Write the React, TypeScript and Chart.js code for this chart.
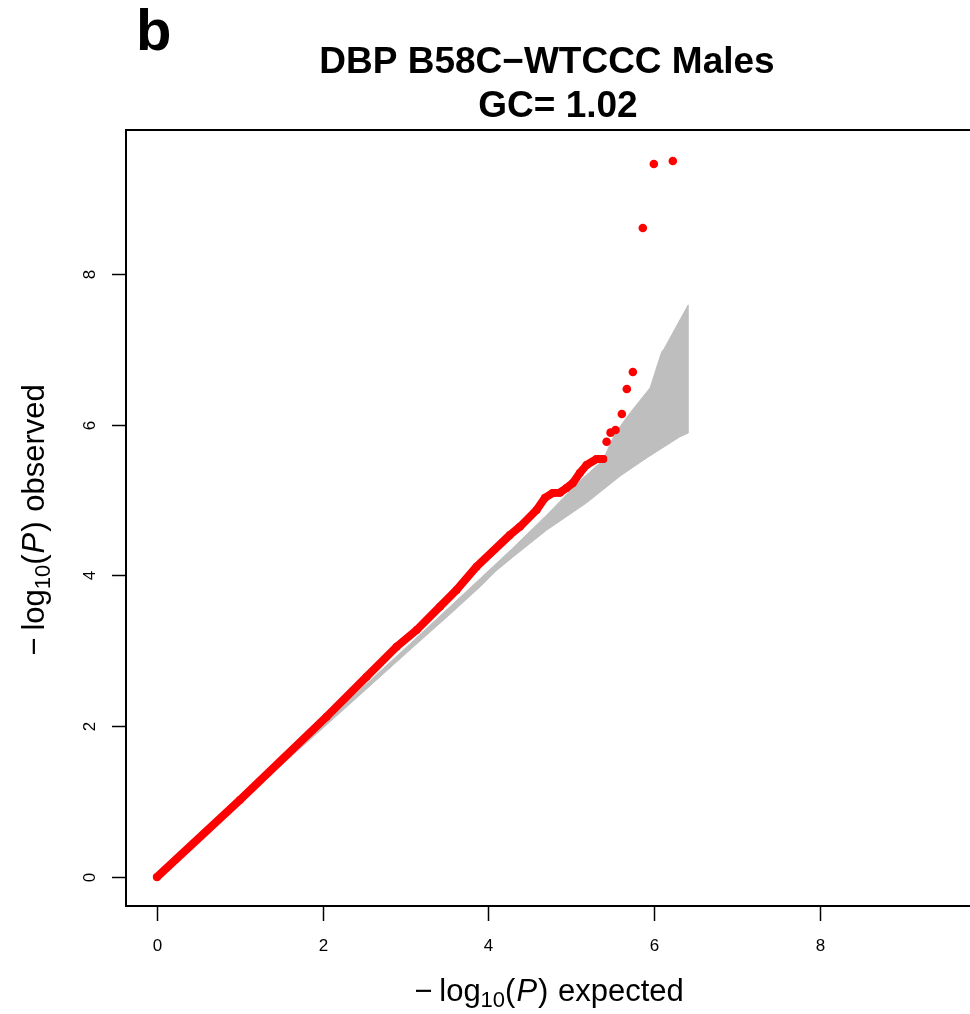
import React, { useEffect, useRef } from "react";
import { Chart, registerables } from "chart.js";

Chart.register(...registerables);

// ---- data ----
const xTicks = [0, 2, 4, 6, 8];
const yTicks = [0, 2, 4, 6, 8];
const xLimits = [-0.374, 9.81];
const yLimits = [-0.385, 9.91];

const panelLabel = "b";
const titleLine1 = "DBP B58C\u2212WTCCC Males";
const titleLine2 = "GC= 1.02";
const xTitleWord = " expected";
const yTitleWord = " observed";

// dense part of the observed -log10(P) curve
const obsExpected = [0, 1.0, 2.047, 2.53, 2.891, 3.133, 3.414, 3.615, 3.856, 4.258, 4.379, 4.58, 4.68, 4.777, 4.861, 4.942, 5.018, 5.102, 5.183, 5.304, 5.384];
const obsObserved = [0, 1.021, 2.127, 2.657, 3.055, 3.277, 3.586, 3.808, 4.117, 4.537, 4.647, 4.869, 5.028, 5.095, 5.099, 5.161, 5.227, 5.36, 5.466, 5.545, 5.545];

// isolated top hits
const topExpected = [5.425, 5.473, 5.533, 5.609, 5.669, 5.742, 5.862, 5.995, 6.224];
const topObserved = [5.775, 5.895, 5.93, 6.143, 6.474, 6.7, 8.61, 9.459, 9.499];

// 95% band edges
const bandLowX = [0, 1.0, 2.21, 3.09, 3.5, 3.9, 4.08, 4.29, 4.7, 5.18, 5.59, 5.91, 6.31, 6.41];
const bandLowY = [0, 0.99, 2.18, 3.05, 3.45, 3.85, 4.05, 4.24, 4.6, 4.96, 5.32, 5.56, 5.84, 5.89];
const bandUpX = [6.41, 6.11, 6.09, 5.95, 5.71, 5.53, 5.38, 5.1, 4.7, 4.29, 3.9, 3.09, 2.21, 1.0, 0];
const bandUpY = [7.59, 6.99, 6.97, 6.49, 6.16, 5.89, 5.53, 5.25, 4.8, 4.36, 3.96, 3.13, 2.24, 1.01, 0];

const RED = "#FF0000";
const GRAY = "#BEBEBE";
const FONT = "'Liberation Sans', Arial, Helvetica, sans-serif";

function drawMathTitle(ctx: CanvasRenderingContext2D, word: string, size: number) {
  // draws  −log10(P) word  centred on (0,0) baseline
  const subSize = Math.round(size * 0.7);
  const norm = `${size}px ${FONT}`;
  const ital = `italic ${size}px ${FONT}`;
  const sub = `${subSize}px ${FONT}`;
  const pieces: { t: string; f: string; dy: number; gap: number }[] = [
    { t: "\u2212", f: norm, dy: 0, gap: 7 },
    { t: "log", f: norm, dy: 0, gap: 0 },
    { t: "10", f: sub, dy: 6, gap: 0 },
    { t: "(", f: norm, dy: 0, gap: 1 },
    { t: "P", f: ital, dy: 0, gap: 1 },
    { t: ")", f: norm, dy: 0, gap: 1 },
    { t: word, f: norm, dy: 0, gap: 0 },
  ];
  let total = 0;
  const widths: number[] = [];
  for (const p of pieces) {
    ctx.font = p.f;
    const w = ctx.measureText(p.t).width;
    widths.push(w);
    total += w + p.gap;
  }
  let x = -total / 2;
  ctx.textAlign = "left";
  ctx.textBaseline = "alphabetic";
  pieces.forEach((p, i) => {
    ctx.font = p.f;
    ctx.fillText(p.t, x, p.dy);
    x += widths[i] + p.gap;
  });
}

const rAxesPlugin = {
  id: "rAxes",
  afterDraw(chart: any) {
    const { ctx, chartArea } = chart;
    const xs = chart.scales.x;
    const ys = chart.scales.y;
    ctx.save();
    ctx.fillStyle = "#000";
    ctx.strokeStyle = "#000";
    ctx.lineWidth = 2;
    // box (right side runs off the page)
    ctx.beginPath();
    ctx.moveTo(chartArea.right + 5, chartArea.top);
    ctx.lineTo(chartArea.left, chartArea.top);
    ctx.lineTo(chartArea.left, chartArea.bottom);
    ctx.lineTo(chartArea.right + 5, chartArea.bottom);
    ctx.stroke();

    // x ticks
    ctx.lineWidth = 1.5;
    ctx.font = `17px ${FONT}`;
    ctx.textAlign = "center";
    ctx.textBaseline = "middle";
    for (const v of xTicks) {
      const px = Math.round(xs.getPixelForValue(v)) + 0.5;
      ctx.beginPath();
      ctx.moveTo(px, chartArea.bottom);
      ctx.lineTo(px, chartArea.bottom + 15);
      ctx.stroke();
      ctx.fillText(String(v), px, chartArea.bottom + 40);
    }
    // y ticks
    for (const v of yTicks) {
      const py = Math.round(ys.getPixelForValue(v)) + 0.5;
      ctx.beginPath();
      ctx.moveTo(chartArea.left - 14, py);
      ctx.lineTo(chartArea.left, py);
      ctx.stroke();
      ctx.save();
      ctx.translate(chartArea.left - 36, py);
      ctx.rotate(-Math.PI / 2);
      ctx.fillText(String(v), 0, 0);
      ctx.restore();
    }

    // axis titles
    ctx.save();
    ctx.translate(549, 1001);
    drawMathTitle(ctx, xTitleWord, 31);
    ctx.restore();
    ctx.save();
    ctx.translate(44, 520);
    ctx.rotate(-Math.PI / 2);
    drawMathTitle(ctx, yTitleWord, 31);
    ctx.restore();

    // main titles
    ctx.textAlign = "center";
    ctx.textBaseline = "alphabetic";
    ctx.font = `bold 37px ${FONT}`;
    ctx.fillText(titleLine1, 547, 73);
    ctx.fillText(titleLine2, 558, 117);
    ctx.textAlign = "left";
    ctx.font = `bold 58px ${FONT}`;
    ctx.fillText(panelLabel, 136, 50);
    ctx.restore();
  },
};

export default function App() {
  const ref = useRef<HTMLCanvasElement | null>(null);
  useEffect(() => {
    if (!ref.current) return;
    const band = [
      ...bandLowX.map((x, i) => ({ x, y: bandLowY[i] })),
      ...bandUpX.map((x, i) => ({ x, y: bandUpY[i] })),
    ];
    const obs = obsExpected.map((x, i) => ({ x, y: obsObserved[i] }));
    const top = topExpected.map((x, i) => ({ x, y: topObserved[i] }));
    const chart = new Chart(ref.current, {
      type: "scatter",
      data: {
        datasets: [
          {
            type: "line",
            data: band,
            borderColor: GRAY,
            borderWidth: 1,
            backgroundColor: GRAY,
            pointRadius: 0,
            fill: "shape",
            tension: 0,
            order: 3,
          } as any,
          {
            data: obs,
            showLine: true,
            borderColor: RED,
            borderWidth: 8,
            borderCapStyle: "round",
            borderJoinStyle: "round",
            backgroundColor: RED,
            pointRadius: 4,
            pointBackgroundColor: RED,
            pointBorderColor: RED,
            pointBorderWidth: 0,
            order: 1,
          } as any,
          {
            data: top,
            backgroundColor: RED,
            pointRadius: 4.3,
            pointBackgroundColor: RED,
            pointBorderColor: RED,
            pointBorderWidth: 0,
            order: 1,
          } as any,
        ],
      },
      options: {
        responsive: false,
        animation: false,
        devicePixelRatio: 1,
        events: [],
        layout: { autoPadding: false, padding: { left: 126, top: 130, right: 0, bottom: 108 } },
        scales: {
          x: { type: "linear", min: xLimits[0], max: xLimits[1], display: false },
          y: { type: "linear", min: yLimits[0], max: yLimits[1], display: false },
        },
        plugins: { legend: { display: false }, tooltip: { enabled: false }, title: { display: false } },
      },
      plugins: [rAxesPlugin],
    });
    return () => chart.destroy();
  }, []);
  return (
    <div style={{ position: "absolute", left: 0, top: 0, width: 970, height: 1014, background: "#fff" }}>
      <canvas ref={ref} width={970} height={1014} style={{ display: "block" }} />
    </div>
  );
}
